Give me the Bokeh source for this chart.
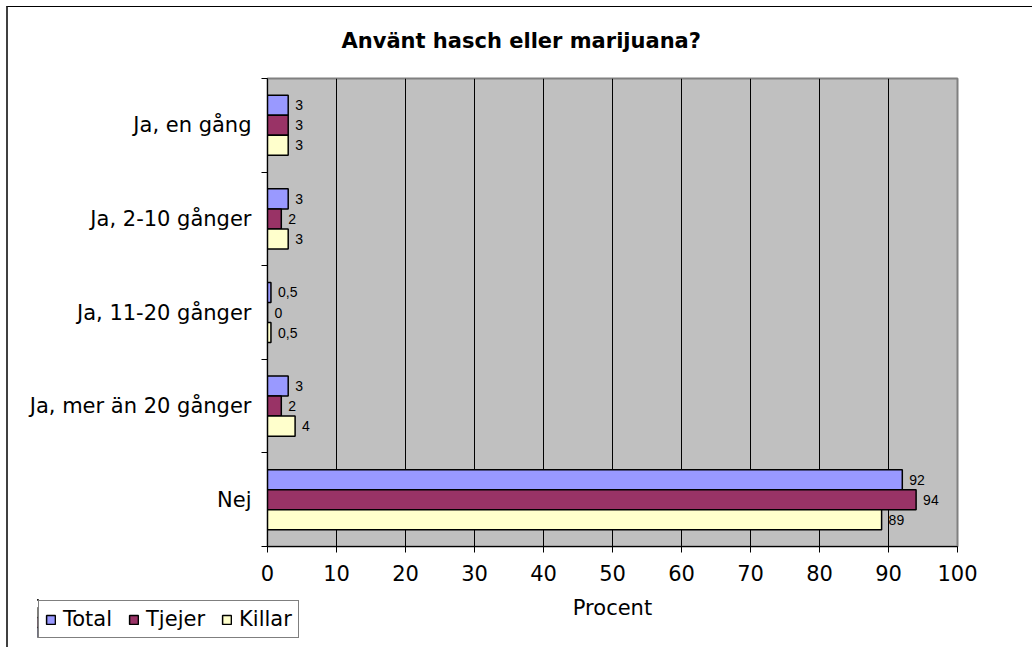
from bokeh.plotting import figure
from bokeh.models import (ColumnDataSource, Range1d, FixedTicker, Legend, LegendItem, Title)
from bokeh.embed import file_html
from bokeh.resources import INLINE

# ---- data ----
categories = ["Ja, en gång", "Ja, 2-10 gånger", "Ja, 11-20 gånger", "Ja, mer än 20 gånger", "Nej"]
total = [3, 3, 0.5, 3, 92]
tjejer = [3, 2, 0, 2, 94]
killar = [3, 3, 0.5, 4, 89]
series_names = ["Total", "Tjejer", "Killar"]
series_colors = ["#9999FF", "#993366", "#FFFFCC"]
x_ticks = [0, 10, 20, 30, 40, 50, 60, 70, 80, 90, 100]

title_text = "Använt hasch eller marijuana?"
x_label = "Procent"

FONT = "DejaVu Sans"
FS = "21px"

p = figure(width=1026, height=641, title=None,
           min_border_left=259, min_border_right=77,
           min_border_top=71, min_border_bottom=102,
           x_range=Range1d(0, 100), y_range=Range1d(len(categories), 0),
           output_backend="svg", toolbar_location=None,
           background_fill_color="#C0C0C0", border_fill_color="white")

p.styles = {"margin-left": "6px", "margin-top": "6px",
            "border-left": "2px solid #404040", "border-top": "1px solid #000000"}

p.outline_line_color = "#808080"
p.outline_line_width = 2

bar_h = 0.214
centers = [i + 0.5 for i in range(len(categories))]
sources = []
for k, (name, vals, col) in enumerate(zip(series_names, [total, tjejer, killar], series_colors)):
    ys = [c + (k - 1) * bar_h for c in centers]
    labels = [str(v).replace(".", ",") if v != int(v) else str(int(v)) for v in vals]
    src = ColumnDataSource(dict(y=ys, right=vals, lab=labels))
    sources.append(src)
    p.hbar(y="y", left=0, right="right", height=bar_h, source=src,
           fill_color=col, line_color="black", line_width=1.5)
    p.text(x="right", y="y", text="lab", source=src, x_offset=7,
           text_baseline="middle", text_align="left",
           text_font_size="14px", text_font={"value": "Liberation Sans"},
           text_color="black")

# grids
p.xgrid.ticker = FixedTicker(ticks=x_ticks)
p.xgrid.grid_line_color = "black"
p.xgrid.grid_line_width = 1
p.ygrid.grid_line_color = None

# x axis
xa = p.xaxis[0]
xa.ticker = FixedTicker(ticks=x_ticks)
xa.axis_line_color = "black"
xa.axis_line_width = 1
xa.major_tick_out = 6
xa.major_tick_in = 0
xa.major_tick_line_color = "black"
xa.minor_tick_line_color = None
xa.major_label_text_font = FONT
xa.major_label_text_font_size = FS
xa.major_label_text_color = "black"
xa.major_label_standoff = 12
xa.axis_label = x_label
xa.axis_label_text_font = FONT
xa.axis_label_text_font_size = FS
xa.axis_label_text_color = "black"
xa.axis_label_text_font_style = "normal"
xa.axis_label_standoff = 12

# y axis
ya = p.yaxis[0]
ya.ticker = FixedTicker(ticks=centers, minor_ticks=list(range(len(categories) + 1)))
ya.major_label_overrides = {c: lab for c, lab in zip(centers, categories)}
ya.axis_line_color = "black"
ya.major_tick_line_color = None
ya.major_tick_out = 0
ya.major_tick_in = 0
ya.minor_tick_out = 6
ya.minor_tick_in = 0
ya.minor_tick_line_color = "black"
ya.major_label_text_font = FONT
ya.major_label_text_font_size = FS
ya.major_label_text_color = "black"
ya.major_label_standoff = 10

# title (a trailing blank line lifts it away from the plot area)
p.add_layout(Title(text=title_text + "\n ", align="left", offset=74, standoff=4,
                   text_font=FONT, text_font_size=FS, text_font_style="bold",
                   text_color="black", vertical_align="bottom"), "above")

# ---- legend (separate small canvas placed at the chart's bottom-left) ----
pl = figure(width=266, height=46, min_border=0, x_axis_type=None, y_axis_type=None,
            x_range=Range1d(1000, 1001), y_range=Range1d(0, 1),
            toolbar_location=None, output_backend="svg",
            outline_line_color=None, background_fill_alpha=0, border_fill_alpha=0)
pl.styles = {"position": "absolute", "left": "37px", "top": "599px"}
items = []
for name, col, src in zip(series_names, series_colors, sources):
    r = pl.hbar(y="y", left=0, right="right", height=bar_h, source=src,
                fill_color=col, line_color="black", line_width=1.5)
    items.append(LegendItem(label=name, renderers=[r]))
legend = Legend(items=items, orientation="horizontal", location="top_left",
                border_line_color="black", border_line_width=1,
                background_fill_color="white", background_fill_alpha=1,
                label_text_font=FONT, label_text_font_size=FS, label_text_color="black",
                glyph_width=11, glyph_height=11, label_standoff=7, spacing=16,
                padding=6, margin=1, label_height=22)
pl.add_layout(legend, "center")

open("out.html", "w").write(file_html([p, pl], INLINE))
